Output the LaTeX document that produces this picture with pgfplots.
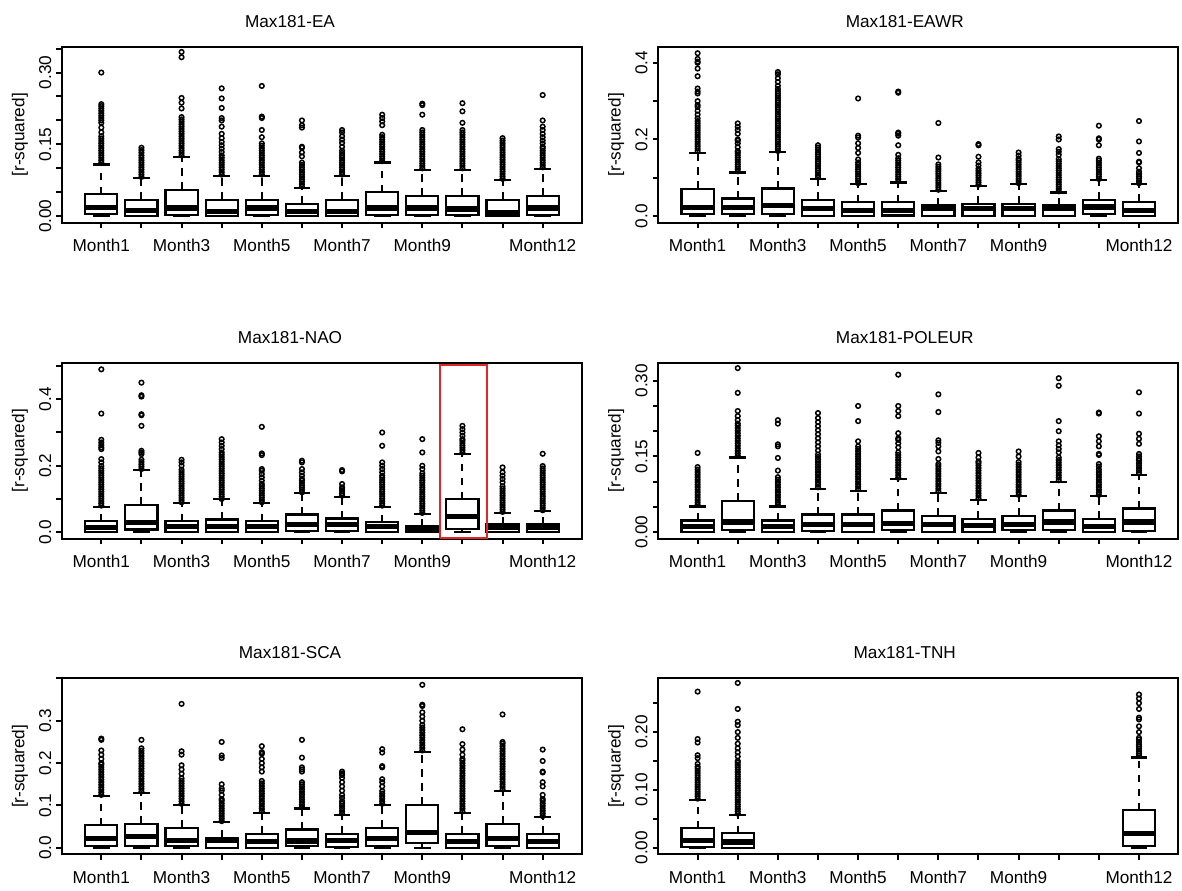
\documentclass[border=0pt]{standalone}
\usepackage{fontspec}
\setmainfont{Liberation Sans}
\usepackage{pgfplots}
\pgfplotsset{compat=1.18}
\usepgfplotslibrary{statistics}
\definecolor{rred}{RGB}{226,38,38}
\newcommand\fsz{\fontsize{8.6}{10.3}\selectfont}
\newcommand{\rbx}[7]{\addplot[rbox,boxplot prepared={draw position=#1,lower whisker=#2,lower quartile=#3,median=#4,upper quartile=#5,upper whisker=#6}] table[row sep=\\,y index=0]{y\\#7\\};}
\pgfplotsset{
 boxplot/draw direction=y,
 boxplot/box extend=0.8,
 boxplot/whisker extend=0.42,
 boxplot/every median/.style={line width=2.6pt},
 boxplot/every box/.style={draw,line width=1.1pt},
 boxplot/draw/lower whisker/.code={%
  \draw[line width=1pt,dash pattern=on 3.8pt off 3.2pt]
   (boxplot cs:\pgfplotsboxplotvalue{lower whisker})--(boxplot cs:\pgfplotsboxplotvalue{lower quartile});
  \draw[line width=1.1pt,solid]
   (boxplot whisker cs:\pgfplotsboxplotvalue{lower whisker},0)--(boxplot whisker cs:\pgfplotsboxplotvalue{lower whisker},1);
 },
 boxplot/draw/upper whisker/.code={%
  \draw[line width=1pt,dash pattern=on 3.8pt off 3.2pt]
   (boxplot cs:\pgfplotsboxplotvalue{upper quartile})--(boxplot cs:\pgfplotsboxplotvalue{upper whisker});
  \draw[line width=1.1pt,solid]
   (boxplot whisker cs:\pgfplotsboxplotvalue{upper whisker},0)--(boxplot whisker cs:\pgfplotsboxplotvalue{upper whisker},1);
 },
 rbox/.style={black,line width=1pt,mark=o,mark size=1.15pt,mark options={solid,line width=0.75pt}},
 rpanel/.style={
  scale only axis,width=260pt,height=88pt,anchor=north west,
  boxplot/draw direction=y,
  xmin=0.02,xmax=12.98,
  xtick={1,2,3,4,5,6,7,8,9,10,11,12},
  xticklabels={Month1,,Month3,,Month5,,Month7,,Month9,,,Month12},
  tick pos=left,tick align=outside,
  major tick length=2.8pt,
  every tick/.append style={black,line width=1pt},
  axis line style={line width=1pt},
  tick label style={font=\fsz},
  label style={font=\fsz},
  xticklabel style={anchor=base,inner sep=0pt},
  xticklabel shift=11.65pt,
  yticklabel style={rotate=90,anchor=base,inner sep=0pt},
  yticklabel shift=2.65pt,
  ylabel={[r-squared]},
  every axis y label/.style={at={(axis description cs:-0.081,0.5)},rotate=90,anchor=center},
  title style={font=\fsz,anchor=base,yshift=3.8pt,inner sep=0pt},
 },
}
\begin{document}
\begin{tikzpicture}[font=\fsz]
\path[use as bounding box] (0,0) rectangle (591pt,445pt);
% ---------------- EA
\begin{axis}[rpanel,at={(31pt,421.65pt)},ymin=-0.0136,ymax=0.354,
 ytick={0,0.05,0.1,0.15,0.2,0.25,0.3,0.35},yticklabels={0.00,,,0.15,,,0.30,},
 title={Max181-EA},title style={at={(0.4385,1)}}]
\rbx{1}{0}{0.004}{0.018}{0.046}{0.108}{0.112\\0.117\\0.122\\0.127\\0.132\\0.137\\0.142\\0.147\\0.152\\0.157\\0.162\\0.167\\0.175\\0.185\\0.195\\0.2\\0.205\\0.21\\0.215\\0.22\\0.225\\0.23\\0.234\\0.30}
\rbx{2}{0}{0.001}{0.012}{0.034}{0.079}{0.082\\0.087\\0.092\\0.097\\0.102\\0.107\\0.112\\0.117\\0.122\\0.127\\0.133\\0.138\\0.143}
\rbx{3}{0}{0.003}{0.017}{0.055}{0.124}{0.127\\0.132\\0.137\\0.142\\0.147\\0.152\\0.157\\0.162\\0.167\\0.172\\0.177\\0.182\\0.187\\0.192\\0.197\\0.202\\0.207\\0.225\\0.237\\0.247\\0.332\\0.343}
\rbx{4}{0}{0.0}{0.010}{0.034}{0.084}{0.087\\0.092\\0.097\\0.102\\0.107\\0.112\\0.117\\0.122\\0.127\\0.134\\0.141\\0.148\\0.155\\0.163\\0.172\\0.187\\0.2\\0.205\\0.226\\0.246\\0.267}
\rbx{5}{0}{0.002}{0.017}{0.034}{0.084}{0.087\\0.092\\0.097\\0.102\\0.107\\0.112\\0.117\\0.122\\0.127\\0.132\\0.137\\0.142\\0.147\\0.152\\0.165\\0.18\\0.205\\0.208\\0.272}
\rbx{6}{0}{0.0}{0.010}{0.026}{0.059}{0.062\\0.067\\0.072\\0.077\\0.082\\0.087\\0.092\\0.097\\0.102\\0.107\\0.112\\0.125\\0.133\\0.143\\0.145\\0.185\\0.19\\0.2}
\rbx{7}{0}{0.001}{0.010}{0.034}{0.084}{0.087\\0.092\\0.097\\0.102\\0.107\\0.112\\0.117\\0.122\\0.127\\0.132\\0.137\\0.145\\0.153\\0.16\\0.167\\0.175\\0.18}
\rbx{8}{0}{0.003}{0.017}{0.050}{0.112}{0.115\\0.12\\0.125\\0.13\\0.135\\0.14\\0.145\\0.15\\0.155\\0.16\\0.165\\0.17\\0.19\\0.198\\0.205\\0.212}
\rbx{9}{0}{0.003}{0.017}{0.043}{0.096}{0.1\\0.105\\0.11\\0.115\\0.12\\0.125\\0.13\\0.135\\0.14\\0.145\\0.15\\0.155\\0.16\\0.165\\0.17\\0.175\\0.18\\0.212\\0.232\\0.235}
\rbx{10}{0}{0.002}{0.015}{0.043}{0.096}{0.1\\0.105\\0.11\\0.115\\0.12\\0.125\\0.13\\0.135\\0.14\\0.145\\0.15\\0.155\\0.16\\0.165\\0.17\\0.175\\0.18\\0.195\\0.219\\0.236}
\rbx{11}{0}{0.0}{0.008}{0.034}{0.075}{0.078\\0.083\\0.088\\0.093\\0.098\\0.103\\0.108\\0.113\\0.118\\0.123\\0.128\\0.133\\0.138\\0.143\\0.148\\0.153\\0.158\\0.163}
\rbx{12}{0}{0.003}{0.017}{0.043}{0.099}{0.102\\0.107\\0.112\\0.117\\0.122\\0.127\\0.132\\0.137\\0.142\\0.145\\0.152\\0.158\\0.165\\0.172\\0.18\\0.187\\0.2\\0.253}
\end{axis}
% ---------------- EAWR
\begin{axis}[rpanel,at={(329.15pt,421.65pt)},ymin=-0.017,ymax=0.442,
 ytick={0,0.1,0.2,0.3,0.4},yticklabels={0.0,,0.2,,0.4},
 title={Max181-EAWR},title style={at={(0.474,1)}}]
\rbx{1}{0}{0.006}{0.022}{0.071}{0.165}{0.17\\0.176\\0.182\\0.188\\0.194\\0.2\\0.206\\0.212\\0.218\\0.224\\0.23\\0.236\\0.242\\0.248\\0.255\\0.265\\0.275\\0.285\\0.29\\0.3\\0.32\\0.325\\0.333\\0.365\\0.385\\0.4\\0.403\\0.41\\0.425}
\rbx{2}{0}{0.006}{0.022}{0.046}{0.114}{0.117\\0.123\\0.129\\0.135\\0.141\\0.147\\0.153\\0.159\\0.165\\0.17\\0.18\\0.19\\0.197\\0.2\\0.215\\0.225\\0.233\\0.242}
\rbx{3}{0}{0.006}{0.028}{0.072}{0.167}{0.17\\0.176\\0.182\\0.188\\0.194\\0.2\\0.206\\0.212\\0.218\\0.224\\0.23\\0.236\\0.242\\0.248\\0.254\\0.26\\0.266\\0.272\\0.278\\0.284\\0.29\\0.296\\0.302\\0.308\\0.314\\0.32\\0.326\\0.332\\0.34\\0.35\\0.36\\0.37\\0.376}
\rbx{4}{0}{0.001}{0.019}{0.043}{0.098}{0.101\\0.107\\0.113\\0.119\\0.125\\0.131\\0.137\\0.143\\0.149\\0.155\\0.161\\0.167\\0.173\\0.179\\0.185}
\rbx{5}{0}{0.0}{0.015}{0.036}{0.083}{0.086\\0.092\\0.098\\0.104\\0.11\\0.116\\0.122\\0.128\\0.134\\0.14\\0.148\\0.165\\0.178\\0.19\\0.205\\0.21\\0.307}
\rbx{6}{0}{0.002}{0.015}{0.036}{0.088}{0.091\\0.097\\0.103\\0.109\\0.115\\0.121\\0.127\\0.133\\0.139\\0.145\\0.151\\0.16\\0.185\\0.21\\0.215\\0.218\\0.322\\0.325}
\rbx{7}{0}{0.0}{0.019}{0.028}{0.066}{0.069\\0.075\\0.081\\0.087\\0.093\\0.099\\0.105\\0.111\\0.117\\0.123\\0.129\\0.135\\0.153\\0.243}
\rbx{8}{0}{0.0}{0.019}{0.032}{0.079}{0.082\\0.088\\0.094\\0.1\\0.106\\0.112\\0.118\\0.124\\0.132\\0.14\\0.155\\0.185\\0.188}
\rbx{9}{0}{0.0}{0.019}{0.032}{0.083}{0.086\\0.092\\0.098\\0.104\\0.11\\0.116\\0.122\\0.128\\0.134\\0.14\\0.146\\0.15\\0.158\\0.166}
\rbx{10}{0}{0.0}{0.019}{0.028}{0.062}{0.065\\0.071\\0.077\\0.083\\0.089\\0.095\\0.101\\0.107\\0.113\\0.119\\0.125\\0.131\\0.137\\0.143\\0.149\\0.16\\0.168\\0.175\\0.2\\0.208}
\rbx{11}{0}{0.006}{0.024}{0.043}{0.094}{0.097\\0.103\\0.109\\0.115\\0.121\\0.127\\0.133\\0.139\\0.145\\0.15\\0.185\\0.2\\0.203\\0.236}
\rbx{12}{0}{0.0}{0.015}{0.038}{0.083}{0.086\\0.092\\0.098\\0.104\\0.11\\0.116\\0.125\\0.14\\0.142\\0.165\\0.195\\0.248}
\end{axis}
% ---------------- NAO
\begin{axis}[rpanel,at={(31pt,263.65pt)},ymin=-0.0196,ymax=0.51,
 ytick={0,0.1,0.2,0.3,0.4,0.5},yticklabels={0.0,,0.2,,0.4,},
 title={Max181-NAO},title style={at={(0.4385,1)}}]
\rbx{1}{0}{0.0}{0.015}{0.033}{0.077}{0.08\\0.087\\0.094\\0.101\\0.108\\0.115\\0.122\\0.129\\0.136\\0.143\\0.15\\0.157\\0.164\\0.171\\0.178\\0.185\\0.192\\0.199\\0.21\\0.22\\0.25\\0.255\\0.262\\0.27\\0.278\\0.357\\0.49}
\rbx{2}{0}{0.008}{0.030}{0.083}{0.187}{0.19\\0.197\\0.204\\0.211\\0.218\\0.235\\0.24\\0.245\\0.32\\0.352\\0.355\\0.408\\0.412\\0.45}
\rbx{3}{0}{0.0}{0.018}{0.033}{0.087}{0.09\\0.097\\0.104\\0.111\\0.118\\0.125\\0.132\\0.139\\0.146\\0.153\\0.16\\0.167\\0.174\\0.181\\0.188\\0.2\\0.21\\0.218}
\rbx{4}{0}{0.0}{0.018}{0.038}{0.099}{0.1\\0.107\\0.114\\0.121\\0.128\\0.135\\0.142\\0.149\\0.156\\0.163\\0.17\\0.177\\0.184\\0.191\\0.198\\0.205\\0.212\\0.219\\0.226\\0.233\\0.24\\0.25\\0.26\\0.27\\0.28}
\rbx{5}{0}{0.0}{0.018}{0.033}{0.087}{0.09\\0.097\\0.104\\0.111\\0.118\\0.125\\0.132\\0.139\\0.145\\0.155\\0.165\\0.175\\0.185\\0.19\\0.232\\0.237\\0.317}
\rbx{6}{0}{0.004}{0.022}{0.053}{0.117}{0.12\\0.127\\0.134\\0.141\\0.148\\0.155\\0.16\\0.17\\0.18\\0.19\\0.21\\0.215}
\rbx{7}{0}{0.003}{0.022}{0.041}{0.107}{0.11\\0.117\\0.124\\0.13\\0.135\\0.145\\0.183\\0.187}
\rbx{8}{0}{0.0}{0.018}{0.030}{0.077}{0.08\\0.087\\0.094\\0.101\\0.108\\0.115\\0.122\\0.129\\0.136\\0.143\\0.15\\0.157\\0.164\\0.17\\0.18\\0.19\\0.2\\0.21\\0.26\\0.3}
\rbx{9}{0}{0.0}{0.008}{0.018}{0.055}{0.058\\0.065\\0.072\\0.079\\0.086\\0.093\\0.1\\0.107\\0.114\\0.121\\0.128\\0.135\\0.142\\0.149\\0.156\\0.163\\0.17\\0.177\\0.19\\0.2\\0.24\\0.28}
\rbx{10}{0}{0.010}{0.048}{0.099}{0.236}{0.24\\0.247\\0.254\\0.261\\0.268\\0.275\\0.28\\0.29\\0.3\\0.31\\0.32}
\rbx{11}{0}{0.0}{0.015}{0.023}{0.058}{0.061\\0.068\\0.075\\0.082\\0.089\\0.096\\0.103\\0.11\\0.117\\0.124\\0.131\\0.138\\0.15\\0.16\\0.17\\0.18\\0.195}
\rbx{12}{0}{0.0}{0.013}{0.023}{0.063}{0.066\\0.073\\0.08\\0.087\\0.094\\0.101\\0.108\\0.115\\0.122\\0.129\\0.136\\0.143\\0.15\\0.157\\0.164\\0.171\\0.178\\0.185\\0.192\\0.199\\0.236}
\addplot[rred,line width=1pt,mark=none] coordinates {(9.45,-0.016) (10.62,-0.016) (10.62,0.503) (9.45,0.503) (9.45,-0.016)};
\end{axis}
% ---------------- POLEUR
\begin{axis}[rpanel,at={(329.15pt,263.65pt)},ymin=-0.0129,ymax=0.3357,
 ytick={0,0.05,0.1,0.15,0.2,0.25,0.3},yticklabels={0.00,,,0.15,,,0.30},
 title={Max181-POLEUR},title style={at={(0.474,1)}}]
\rbx{1}{0}{0.0}{0.011}{0.023}{0.051}{0.054\\0.059\\0.064\\0.069\\0.074\\0.079\\0.084\\0.089\\0.094\\0.099\\0.104\\0.109\\0.114\\0.119\\0.124\\0.129\\0.157}
\rbx{2}{0}{0.004}{0.020}{0.062}{0.148}{0.151\\0.156\\0.161\\0.166\\0.171\\0.176\\0.181\\0.186\\0.191\\0.196\\0.201\\0.206\\0.211\\0.215\\0.222\\0.23\\0.24\\0.276\\0.325}
\rbx{3}{0}{0.0}{0.011}{0.023}{0.051}{0.054\\0.059\\0.064\\0.069\\0.074\\0.079\\0.084\\0.089\\0.094\\0.099\\0.104\\0.109\\0.122\\0.147\\0.17\\0.174\\0.215\\0.222}
\rbx{4}{0}{0.002}{0.015}{0.035}{0.086}{0.089\\0.094\\0.099\\0.104\\0.109\\0.114\\0.119\\0.124\\0.129\\0.134\\0.139\\0.144\\0.149\\0.154\\0.162\\0.17\\0.178\\0.186\\0.194\\0.202\\0.21\\0.218\\0.226\\0.236}
\rbx{5}{0}{0.0}{0.015}{0.035}{0.082}{0.085\\0.09\\0.095\\0.1\\0.105\\0.11\\0.115\\0.12\\0.125\\0.13\\0.135\\0.14\\0.145\\0.15\\0.155\\0.16\\0.165\\0.17\\0.18\\0.22\\0.25}
\rbx{6}{0}{0.005}{0.018}{0.043}{0.105}{0.108\\0.113\\0.118\\0.123\\0.128\\0.133\\0.138\\0.143\\0.148\\0.153\\0.158\\0.168\\0.176\\0.183\\0.186\\0.196\\0.23\\0.24\\0.25\\0.312}
\rbx{7}{0}{0.0}{0.015}{0.032}{0.078}{0.081\\0.086\\0.091\\0.096\\0.101\\0.106\\0.111\\0.116\\0.121\\0.126\\0.131\\0.135\\0.145\\0.16\\0.17\\0.177\\0.182\\0.238\\0.273}
\rbx{8}{0}{0.0}{0.013}{0.026}{0.064}{0.067\\0.072\\0.077\\0.082\\0.087\\0.092\\0.097\\0.102\\0.107\\0.112\\0.117\\0.122\\0.127\\0.132\\0.137\\0.14\\0.148\\0.157}
\rbx{9}{0}{0.004}{0.015}{0.032}{0.071}{0.074\\0.079\\0.084\\0.089\\0.094\\0.099\\0.104\\0.109\\0.114\\0.119\\0.124\\0.129\\0.134\\0.139\\0.15\\0.16}
\rbx{10}{0}{0.004}{0.020}{0.043}{0.100}{0.103\\0.108\\0.113\\0.118\\0.123\\0.128\\0.133\\0.138\\0.143\\0.148\\0.158\\0.165\\0.172\\0.18\\0.2\\0.22\\0.29\\0.305}
\rbx{11}{0}{0.0}{0.012}{0.026}{0.071}{0.074\\0.079\\0.084\\0.089\\0.094\\0.099\\0.104\\0.109\\0.114\\0.119\\0.124\\0.13\\0.135\\0.153\\0.155\\0.17\\0.18\\0.19\\0.235\\0.237}
\rbx{12}{0}{0.003}{0.020}{0.047}{0.114}{0.117\\0.122\\0.127\\0.132\\0.137\\0.142\\0.145\\0.15\\0.155\\0.175\\0.185\\0.195\\0.235\\0.277}
\end{axis}
% ---------------- SCA
\begin{axis}[rpanel,at={(31pt,105.85pt)},ymin=-0.0154,ymax=0.4004,
 ytick={0,0.1,0.2,0.3,0.4},yticklabels={0.0,0.1,0.2,0.3,},
 title={Max181-SCA},title style={at={(0.4385,1)}}]
\rbx{1}{0}{0.004}{0.022}{0.053}{0.122}{0.125\\0.131\\0.137\\0.143\\0.149\\0.155\\0.161\\0.167\\0.173\\0.179\\0.185\\0.191\\0.197\\0.2\\0.21\\0.22\\0.23\\0.255\\0.258}
\rbx{2}{0}{0.005}{0.027}{0.056}{0.130}{0.133\\0.139\\0.145\\0.151\\0.157\\0.163\\0.169\\0.175\\0.181\\0.187\\0.193\\0.199\\0.205\\0.211\\0.217\\0.223\\0.229\\0.235\\0.255}
\rbx{3}{0}{0.004}{0.018}{0.047}{0.101}{0.104\\0.11\\0.116\\0.122\\0.128\\0.134\\0.14\\0.146\\0.152\\0.158\\0.164\\0.175\\0.185\\0.195\\0.22\\0.228\\0.34}
\rbx{4}{0}{0.0}{0.018}{0.024}{0.060}{0.063\\0.069\\0.075\\0.081\\0.087\\0.093\\0.099\\0.105\\0.111\\0.115\\0.125\\0.135\\0.14\\0.15\\0.212\\0.218\\0.25}
\rbx{5}{0}{0.0}{0.014}{0.033}{0.083}{0.086\\0.092\\0.098\\0.104\\0.11\\0.116\\0.122\\0.128\\0.134\\0.14\\0.146\\0.152\\0.158\\0.18\\0.19\\0.2\\0.21\\0.222\\0.226\\0.24}
\rbx{6}{0}{0.004}{0.016}{0.043}{0.093}{0.096\\0.102\\0.108\\0.114\\0.12\\0.126\\0.132\\0.138\\0.144\\0.15\\0.155\\0.18\\0.185\\0.19\\0.213\\0.255}
\rbx{7}{0}{0.002}{0.018}{0.033}{0.078}{0.081\\0.087\\0.093\\0.099\\0.105\\0.11\\0.118\\0.125\\0.135\\0.145\\0.155\\0.165\\0.172\\0.176\\0.18}
\rbx{8}{0}{0.004}{0.022}{0.047}{0.101}{0.104\\0.11\\0.116\\0.122\\0.128\\0.134\\0.145\\0.155\\0.162\\0.19\\0.193\\0.225\\0.233}
\rbx{9}{0}{0.012}{0.037}{0.101}{0.227}{0.23\\0.236\\0.242\\0.248\\0.254\\0.26\\0.266\\0.272\\0.278\\0.284\\0.29\\0.3\\0.31\\0.32\\0.335\\0.338\\0.385}
\rbx{10}{0}{0.0}{0.014}{0.033}{0.083}{0.086\\0.092\\0.098\\0.104\\0.11\\0.116\\0.122\\0.128\\0.134\\0.14\\0.146\\0.152\\0.158\\0.164\\0.17\\0.176\\0.182\\0.188\\0.194\\0.2\\0.206\\0.21\\0.22\\0.232\\0.245\\0.28}
\rbx{11}{0}{0.004}{0.022}{0.056}{0.135}{0.138\\0.144\\0.15\\0.156\\0.162\\0.168\\0.174\\0.18\\0.186\\0.192\\0.198\\0.204\\0.21\\0.216\\0.222\\0.228\\0.234\\0.24\\0.246\\0.25\\0.315}
\rbx{12}{0}{0.0}{0.015}{0.033}{0.072}{0.075\\0.081\\0.087\\0.093\\0.099\\0.105\\0.111\\0.115\\0.125\\0.145\\0.155\\0.178\\0.18\\0.205\\0.232}
\end{axis}
% ---------------- TNH
\begin{axis}[rpanel,at={(329.15pt,105.85pt)},ymin=-0.0113,ymax=0.293,
 ytick={0,0.05,0.1,0.15,0.2,0.25},yticklabels={0.00,,0.10,,0.20,},
 title={Max181-TNH},title style={at={(0.474,1)}}]
\rbx{1}{0}{0.002}{0.013}{0.034}{0.082}{0.085\\0.089\\0.093\\0.097\\0.101\\0.105\\0.109\\0.113\\0.117\\0.121\\0.125\\0.129\\0.133\\0.137\\0.14\\0.145\\0.155\\0.16\\0.182\\0.188\\0.27}
\rbx{2}{0}{0.0}{0.010}{0.025}{0.056}{0.059\\0.063\\0.067\\0.071\\0.075\\0.079\\0.083\\0.087\\0.091\\0.095\\0.099\\0.103\\0.107\\0.111\\0.115\\0.119\\0.123\\0.127\\0.131\\0.135\\0.139\\0.143\\0.147\\0.15\\0.158\\0.165\\0.172\\0.18\\0.19\\0.2\\0.212\\0.218\\0.24\\0.285}
\rbx{12}{0}{0.003}{0.025}{0.065}{0.156}{0.159\\0.163\\0.167\\0.171\\0.175\\0.179\\0.183\\0.187\\0.19\\0.2\\0.21\\0.222\\0.225\\0.24\\0.25\\0.258\\0.265}
\end{axis}
\end{tikzpicture}
\end{document}
